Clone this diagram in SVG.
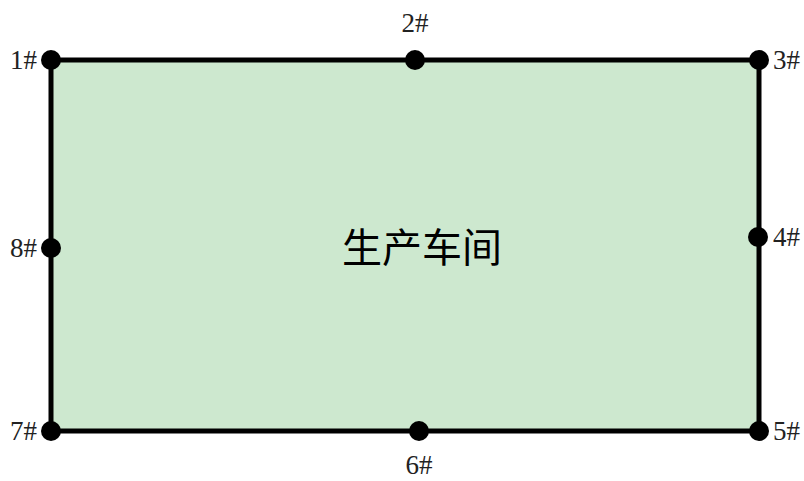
<svg xmlns="http://www.w3.org/2000/svg" width="804" height="481" viewBox="0 0 804 481">
<style>
.lbl{font-family:"Liberation Serif","Noto Sans CJK SC",serif;font-size:27px;fill:#222}
.dot{fill:#000}
.title{font-family:"Noto Sans CJK SC","Liberation Serif",serif;font-size:40px;fill:#000}
</style>
<rect width="804" height="481" fill="#fff"/>
<g id="workshop">
<rect x="51" y="60" width="708" height="371" fill="#cde8cf" stroke="#000" stroke-width="5"/>
<text class="title" x="422" y="262" text-anchor="middle">生产车间</text>
</g>
<g id="p1"><circle class="dot" cx="51" cy="60" r="10"/><text class="lbl" x="37" y="69" text-anchor="end">1#</text></g>
<g id="p2"><circle class="dot" cx="415" cy="60" r="10"/><text class="lbl" x="415" y="32" text-anchor="middle">2#</text></g>
<g id="p3"><circle class="dot" cx="759" cy="60" r="10"/><text class="lbl" x="773" y="69">3#</text></g>
<g id="p4"><circle class="dot" cx="758" cy="237" r="10"/><text class="lbl" x="773" y="246">4#</text></g>
<g id="p5"><circle class="dot" cx="759" cy="431" r="10"/><text class="lbl" x="773" y="440">5#</text></g>
<g id="p6"><circle class="dot" cx="419" cy="431" r="10"/><text class="lbl" x="419" y="474" text-anchor="middle">6#</text></g>
<g id="p7"><circle class="dot" cx="51" cy="431" r="10"/><text class="lbl" x="37" y="440" text-anchor="end">7#</text></g>
<g id="p8"><circle class="dot" cx="51" cy="248" r="10"/><text class="lbl" x="37" y="257" text-anchor="end">8#</text></g>
<g id="connectors"></g>
</svg>
